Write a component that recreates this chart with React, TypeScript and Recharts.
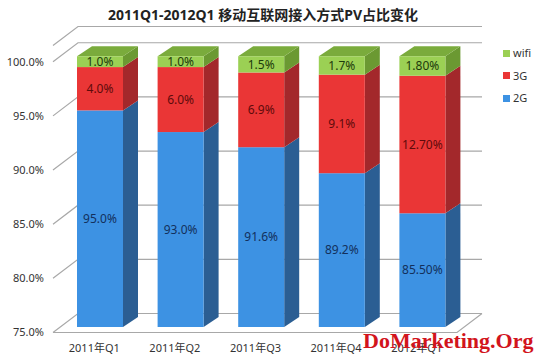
import { Bar, BarChart, CartesianGrid, LabelList, XAxis, YAxis } from "recharts"

const categories = ["2011年Q1", "2011年Q2", "2011年Q3", "2011年Q4", "2012年Q1"]
const share2G = [95.0, 93.0, 91.6, 89.2, 85.5]
const share3G = [4.0, 6.0, 6.9, 9.1, 12.7]
const shareWifi = [1.0, 1.0, 1.5, 1.7, 1.8]
const labelDecimals = [1, 1, 1, 1, 2]
const yTicks = [75, 80, 85, 90, 95, 100]

const data = categories.map((name, i) => ({
  name,
  g2: share2G[i],
  g3: share3G[i],
  wifi: shareWifi[i],
}))

const W = 539
const H = 359
const MARGIN = { top: 40, right: 76, bottom: 0, left: 0 }
const X_AXIS_H = 32
const PLOT_BOTTOM = H - MARGIN.bottom - X_AXIS_H
// depth of the boxes and of the walls
const DX = 15
const DY = 10

const series = [
  { key: "g2", name: "2G", front: "#3d92e3", side: "#2b5e93", top: "#3d92e3", text: "#13305c" },
  { key: "g3", name: "3G", front: "#ea3636", side: "#a3282b", top: "#c33030", text: "#5e0b0b" },
  { key: "wifi", name: "wifi", front: "#9bd054", side: "#6b9932", top: "#7aab3c", text: "#1d3a0c" },
]
const legendOrder = ["wifi", "g3", "g2"]

function Box3D(props: any) {
  const { x, y, width, s, showTop } = props
  const bottom = Math.min(y + props.height, PLOT_BOTTOM)
  const top = y
  const h = Math.max(bottom - top, 0)
  return (
    <g>
      <polygon
        points={`${x + width},${top} ${x + width + DX},${top - DY} ${x + width + DX},${bottom - DY} ${x + width},${bottom}`}
        fill={s.side}
      />
      {showTop && (
        <polygon
          points={`${x},${top} ${x + DX},${top - DY} ${x + width + DX},${top - DY} ${x + width},${top}`}
          fill={s.top}
        />
      )}
      <rect x={x} y={top} width={width} height={h} fill={s.front} />
    </g>
  )
}

const renderLabel = (s: any) => (p: any) => {
  const vb = p.viewBox || p
  const x = vb.x
  const y = vb.y
  const bottom = Math.min(vb.y + vb.height, PLOT_BOTTOM)
  const idx = p.index ?? 0
  return (
    <text
      x={x + vb.width / 2}
      y={(y + bottom) / 2}
      dy="0.36em"
      textAnchor="middle"
      fill={s.text}
      fontSize={12}
      fontFamily="'Noto Sans', sans-serif"
    >
      {`${Number(p.value).toFixed(labelDecimals[idx])}%`}
    </text>
  )
}

const gridLine = (p: any) => {
  const { x1, x2, y1, index } = p
  const yf = y1 + 5.5
  const yb = y1 - 13.5
  const isFloor = Math.abs(y1 - PLOT_BOTTOM) < 1
  return (
    <g key={`g-${index}`}>
      <polyline
        points={`${x1 - 7},${yf} ${x1 + 18},${yb} ${x2 + 19},${yb}`}
        fill="none"
        stroke="#a8a8a8"
        strokeWidth={1.2}
      />
      {isFloor && (
        <polyline
          points={`${x1 - 7},${yf} ${x2 - 6},${yf} ${x2 + 19},${yb}`}
          fill="none"
          stroke="#a8a8a8"
          strokeWidth={1.2}
        />
      )}
    </g>
  )
}

const YTick = (p: any) => (
  <text
    x={44}
    y={p.y + 5.5}
    dy="0.36em"
    textAnchor="end"
    fill="#333"
    fontSize={11}
    fontFamily="'Noto Sans', sans-serif"
  >
    {`${Number(p.payload.value).toFixed(1)}%`}
  </text>
)

const XTick = (p: any) => (
  <text
    x={p.x - 6}
    y={PLOT_BOTTOM + 21}
    dy="0.36em"
    textAnchor="middle"
    fill="#333"
    fontSize={11}
    fontFamily="'Noto Sans', 'Noto Sans CJK SC', sans-serif"
  >
    {p.payload.value}
  </text>
)

export default function App() {
  return (
    <div style={{ position: "absolute", left: 0, top: 0, width: W, height: H, background: "#fff" }}>
      <BarChart width={W} height={H} data={data} margin={MARGIN} barSize={46}>
        <CartesianGrid vertical={false} horizontal={gridLine} />
        <XAxis dataKey="name" height={X_AXIS_H} axisLine={false} tickLine={false} tick={<XTick />} />
        <YAxis
          width={60}
          domain={[75, 101.5]}
          ticks={yTicks}
          allowDataOverflow
          axisLine={false}
          tickLine={false}
          tick={<YTick />}
        />
        {series.map((s, i) => (
          <Bar
            key={s.key}
            dataKey={s.key}
            name={s.name}
            stackId="a"
            fill={s.front}
            isAnimationActive={false}
            shape={(p: any) => <Box3D {...p} s={s} showTop={i === series.length - 1} />}
          >
            <LabelList dataKey={s.key} content={renderLabel(s)} />
          </Bar>
        ))}
      </BarChart>

      <div
        style={{
          position: "absolute",
          left: 0,
          width: 526,
          top: 5,
          textAlign: "center",
          fontFamily: "'Noto Sans', 'Noto Sans CJK SC', sans-serif",
          fontWeight: "bold",
          fontSize: 14,
          lineHeight: "20px",
          color: "#222",
        }}
      >
        2011Q1-2012Q1 移动互联网接入方式PV占比变化
      </div>

      {legendOrder.map((k, i) => {
        const s = series.find((d) => d.key === k)!
        return (
          <div
            key={k}
            style={{
              position: "absolute",
              left: 503,
              top: 45 + i * 22.5,
              display: "flex",
              alignItems: "center",
              fontFamily: "'Noto Sans', sans-serif",
              fontSize: 11,
              lineHeight: "16px",
              color: "#333",
            }}
          >
            <span style={{ width: 7, height: 7, background: s.front, marginRight: 3 }} />
            {s.name}
          </div>
        )
      })}

      <div
        style={{
          position: "absolute",
          left: 363,
          top: 330,
          fontFamily: "'Liberation Serif', serif",
          fontWeight: "bold",
          fontSize: 22,
          lineHeight: "22px",
          color: "#d2141c",
          whiteSpace: "nowrap",
        }}
      >
        DoMarketing.Org
      </div>
    </div>
  )
}
